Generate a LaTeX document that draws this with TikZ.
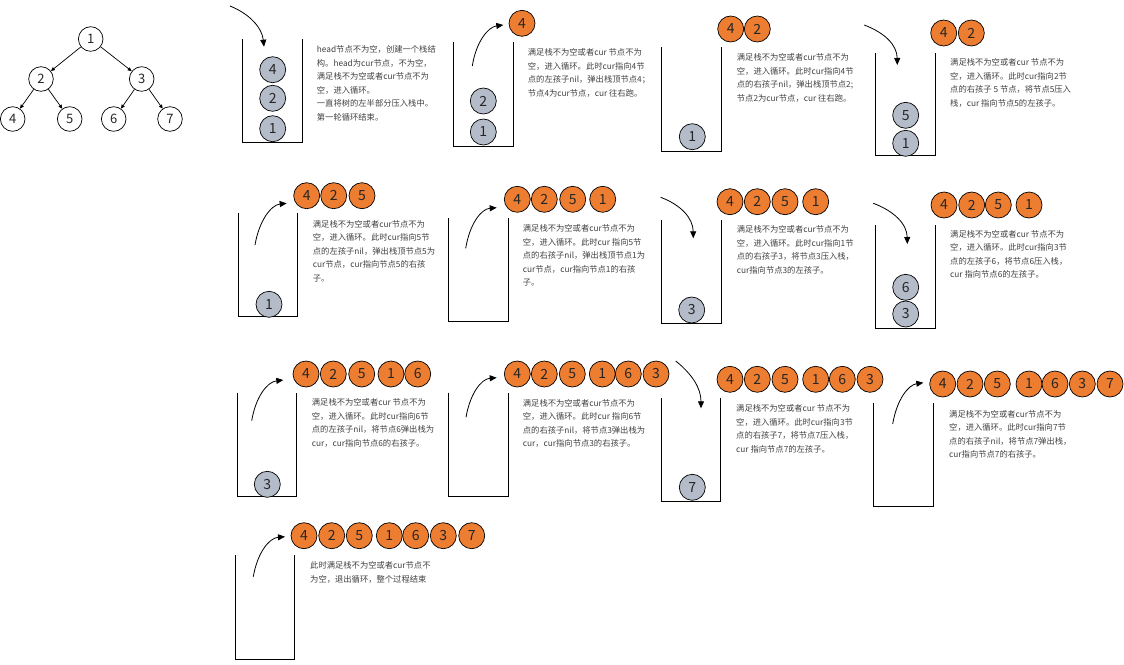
\documentclass[tikz,border=0pt]{standalone}
\usepackage{fontspec}
\newfontfamily\cjk{Noto Sans CJK SC}
\usetikzlibrary{arrows.meta}
\definecolor{orng}{HTML}{ED7D31}
\definecolor{gry}{HTML}{B5BCC9}
\definecolor{txtc}{HTML}{404040}
\definecolor{digc}{HTML}{262626}
\begin{document}
\begin{tikzpicture}[x=1pt,y=-1pt,
  tnode/.style={circle, draw, line width=0.7pt, minimum size=24.6pt, inner sep=0pt, text=digc, font=\cjk\fontsize{13}{13}\selectfont},
  snode/.style={circle, draw, fill=gry, line width=0.7pt, minimum size=26pt, inner sep=0pt, text=digc, font=\cjk\fontsize{14}{14}\selectfont},
  qnode/.style={circle, draw, fill=orng, line width=0.7pt, minimum size=26pt, inner sep=0pt, text=digc, font=\cjk\fontsize{14}{14}\selectfont},
  stackbox/.style={line width=1pt},
  tedge/.style={-{Triangle[length=4pt,width=3.5pt]}, line width=0.7pt},
  flow/.style={-{Triangle[length=7pt,width=6pt]}, line width=0.8pt},
  txt/.style={anchor=north west, inner sep=0pt, align=left, text=txtc, font=\cjk\fontsize{8.3}{13.5}\selectfont}
]
\useasboundingbox (0,0) rectangle (1124,664);
% ---------- tree ----------
\node[tnode] (t1) at (90.7,39) {1};
\node[tnode] (t2) at (41,79) {2};
\node[tnode] (t3) at (141.7,79) {3};
\node[tnode] (t4) at (12.7,119) {4};
\node[tnode] (t5) at (69.7,119) {5};
\node[tnode] (t6) at (113.7,119) {6};
\node[tnode] (t7) at (170,119) {7};
\draw[tedge] (t1) -- (t2);
\draw[tedge] (t1) -- (t3);
\draw[tedge] (t2) -- (t4);
\draw[tedge] (t2) -- (t5);
\draw[tedge] (t3) -- (t6);
\draw[tedge] (t3) -- (t7);
% ---------- panel 1 ----------
\draw[stackbox] (242.3,39.3) |- (302.3,142.3) -- (302.3,39.3);
\node[snode] (a4) at (272.7,69.7) {4};
\node[snode] (a2) at (272.7,98.3) {2};
\node[snode] (a1) at (272.7,128.7) {1};
\coordinate (a0) at (230,6);
\coordinate (ae) at (264,46.7);
\draw[flow] (a0) .. controls (250,14) and (262,28) .. (ae);
\node[txt] (atx) at (316.7,45.7) {head节点不为空，创建一个栈结\\构。head为cur节点，不为空，\\满足栈不为空或者cur节点不为\\空，进入循环。\\一直将树的左半部分压入栈中。\\第一轮循环结束。};
% ---------- panel 2 ----------
\draw[stackbox] (453.3,42.3) |- (513.3,146) -- (513.3,42.3);
\node[snode] (b2) at (483.3,101) {2};
\node[snode] (b1) at (483.3,132) {1};
\node[qnode] (bq4) at (522,23.3) {4};
\coordinate (b0) at (472.3,66);
\coordinate (be) at (503.3,25);
\draw[flow] (b0) .. controls (476,42) and (488,27) .. (be);
\node[txt] (btx) at (527.7,48.3) {满足栈不为空或者cur 节点不为\\空，进入循环。此时cur指向4节\\点的左孩子nil，弹出栈顶节点4；\\节点4为cur节点，cur 往右跑。};
% ---------- panel 3 ----------
\draw[stackbox] (661.7,47.3) |- (721,151) -- (721,47.3);
\node[snode] (c1) at (692.3,136.7) {1};
\node[qnode] (cq4) at (730.7,29) {4};
\node[qnode] (cq2) at (757.3,29) {2};
\node[txt] (ctx) at (736.7,53.3) {满足栈不为空或者cur节点不为\\空，进入循环。此时cur指向4节\\点的右孩子nil，弹出栈顶节点2;\\节点2为cur节点，cur 往右跑。};
% ---------- panel 4 ----------
\draw[stackbox] (875.7,53.3) |- (935.3,155.7) -- (935.3,53.3);
\node[snode] (d5) at (905.7,115.3) {5};
\node[snode] (d1) at (905.7,143.3) {1};
\node[qnode] (dq4) at (943.7,33) {4};
\node[qnode] (dq2) at (971.3,33) {2};
\coordinate (d0) at (864.3,25);
\coordinate (de) at (897.3,65);
\draw[flow] (d0) .. controls (885,33) and (897,45) .. (de);
\node[txt] (dtx) at (950,58.3) {满足栈不为空或者cur 节点不为\\空，进入循环。此时cur指向2节\\点的右孩子 5 节点，将节点5压入\\栈，cur 指向节点5的左孩子。};
% ---------- panel 5 ----------
\draw[stackbox] (238.3,213.3) |- (297.7,316.7) -- (297.7,213.3);
\node[snode] (e1) at (269,304.3) {1};
\node[qnode] (eq4) at (306.7,195.7) {4};
\node[qnode] (eq2) at (333.7,195.7) {2};
\node[qnode] (eq5) at (362,195.7) {5};
\coordinate (e0) at (255,245);
\coordinate (ee) at (286.7,203.3);
\draw[flow] (e0) .. controls (259,221) and (271,205) .. (ee);
\node[txt] (etx) at (312.7,220) {满足栈不为空或者cur节点不为\\空，进入循环。此时cur指向5节\\点的左孩子nil，弹出栈顶节点5为\\cur节点，cur指向节点5的右孩\\子。};
% ---------- panel 6 ----------
\draw[stackbox] (448.3,218.3) |- (508.3,321) -- (508.3,218.3);
\node[qnode] (fq4) at (517.3,199.3) {4};
\node[qnode] (fq2) at (544.3,199.3) {2};
\node[qnode] (fq5) at (572.7,199.3) {5};
\node[qnode] (fq1) at (602.7,199.3) {1};
\coordinate (f0) at (465.7,248.3);
\coordinate (fe) at (496.7,207.7);
\draw[flow] (f0) .. controls (469.7,224) and (481,209) .. (fe);
\node[txt] (ftx) at (522.7,224.3) {满足栈不为空或者cur节点不为\\空，进入循环。此时cur 指向5节\\点的右孩子nil，弹出栈顶节点1为\\cur节点，cur指向节点1的右孩\\子。};
% ---------- panel 7 ----------
\draw[stackbox] (661.7,220) |- (721.7,323.3) -- (721.7,220);
\node[snode] (g3) at (691.7,310) {3};
\node[qnode] (gq4) at (730,201.7) {4};
\node[qnode] (gq2) at (757.3,201.7) {2};
\node[qnode] (gq5) at (785,201.7) {5};
\node[qnode] (gq1) at (815.7,201.7) {1};
\coordinate (g0) at (660.7,197.3);
\coordinate (ge) at (693.3,238.3);
\draw[flow] (g0) .. controls (681,205) and (693,218) .. (ge);
\node[txt] (gtx) at (736.7,225.7) {满足栈不为空或者cur节点不为\\空，进入循环。此时cur指向1节\\点的右孩子3，将节点3压入栈，\\cur指向节点3的左孩子。};
% ---------- panel 8 ----------
\draw[stackbox] (875.7,225) |- (935.7,328.3) -- (935.7,225);
\node[snode] (h6) at (905.7,287.3) {6};
\node[snode] (h3) at (905.7,314) {3};
\node[qnode] (hq4) at (944,205) {4};
\node[qnode] (hq2) at (971.7,205) {2};
\node[qnode] (hq5) at (998.3,205) {5};
\node[qnode] (hq1) at (1029,205) {1};
\coordinate (h0) at (873.3,203.3);
\coordinate (he) at (907.3,244);
\draw[flow] (h0) .. controls (894,211) and (907,224) .. (he);
\node[txt] (htx) at (950,230) {满足栈不为空或者cur 节点不为\\空，进入循环。此时cur指向3节\\点的左孩子6，将节点6压入栈，\\cur 指向节点6的左孩子。};
% ---------- panel 9 ----------
\draw[stackbox] (237.3,392.7) |- (296.7,496.7) -- (296.7,392.7);
\node[snode] (i3) at (267.3,484.3) {3};
\node[qnode] (iq4) at (306,374) {4};
\node[qnode] (iq2) at (333.3,374) {2};
\node[qnode] (iq5) at (361.7,374) {5};
\node[qnode] (iq1) at (391,374) {1};
\node[qnode] (iq6) at (417.7,374) {6};
\coordinate (i0) at (251.7,420.7);
\coordinate (ie) at (283.3,380);
\draw[flow] (i0) .. controls (255.7,397) and (267,382) .. (ie);
\node[txt] (itx) at (311.7,398.3) {满足栈不为空或者cur 节点不为\\空，进入循环。此时cur指向6节\\点的左孩子nil，将节点6弹出栈为\\cur，cur指向节点6的右孩子。};
% ---------- panel 10 ----------
\draw[stackbox] (448.3,392.7) |- (508.3,496.7) -- (508.3,392.7);
\node[qnode] (jq4) at (517.3,374) {4};
\node[qnode] (jq2) at (544.3,374) {2};
\node[qnode] (jq5) at (572.3,374) {5};
\node[qnode] (jq1) at (602.3,374) {1};
\node[qnode] (jq6) at (628.3,374) {6};
\node[qnode] (jq3) at (656,374) {3};
\coordinate (j0) at (466,417.3);
\coordinate (je) at (496.7,377.7);
\draw[flow] (j0) .. controls (470,394) and (481,379) .. (je);
\node[txt] (jtx) at (522.7,399) {满足栈不为空或者cur节点不为\\空，进入循环。此时cur 指向6节\\点的右孩子nil，将节点3弹出栈为\\cur，cur指向节点3的右孩子。};
% ---------- panel 11 ----------
\draw[stackbox] (661.7,398.3) |- (720.7,501.7) -- (720.7,398.3);
\node[snode] (k7) at (692.3,487.3) {7};
\node[qnode] (kq4) at (730,379.3) {4};
\node[qnode] (kq2) at (757.3,379.3) {2};
\node[qnode] (kq5) at (785,379.3) {5};
\node[qnode] (kq1) at (815.7,379.3) {1};
\node[qnode] (kq6) at (842.3,379.3) {6};
\node[qnode] (kq3) at (870,379.3) {3};
\coordinate (k0) at (675.7,361);
\coordinate (ke) at (701,408.3);
\draw[flow] (k0) .. controls (692,374) and (701,388) .. (ke);
\node[txt] (ktx) at (736,404.3) {满足栈不为空或者cur 节点不为\\空，进入循环。此时cur指向3节\\点的右孩子7，将节点7压入栈，\\cur 指向节点7的左孩子。};
% ---------- panel 12 ----------
\draw[stackbox] (873.3,402.7) |- (933.3,506) -- (933.3,402.7);
\node[qnode] (lq4) at (942.7,384) {4};
\node[qnode] (lq2) at (970,384) {2};
\node[qnode] (lq5) at (997.3,384) {5};
\node[qnode] (lq1) at (1029,384) {1};
\node[qnode] (lq6) at (1055,384) {6};
\node[qnode] (lq3) at (1082.3,384) {3};
\node[qnode] (lq7) at (1110,384) {7};
\coordinate (l0) at (892.7,424);
\coordinate (le) at (923.3,382.7);
\draw[flow] (l0) .. controls (896.7,400) and (908,385) .. (le);
\node[txt] (ltx) at (949,410) {满足栈不为空或者cur节点不为\\空，进入循环。此时cur指向7节\\点的右孩子nil，将节点7弹出栈，\\cur指向节点7的右孩子。};
% ---------- panel 13 ----------
\draw[stackbox] (235.7,555) |- (294,659) -- (294,555);
\node[qnode] (mq4) at (304,535.7) {4};
\node[qnode] (mq2) at (331.7,535.7) {2};
\node[qnode] (mq5) at (359.3,535.7) {5};
\node[qnode] (mq1) at (389.3,535.7) {1};
\node[qnode] (mq6) at (415.7,535.7) {6};
\node[qnode] (mq3) at (443.3,535.7) {3};
\node[qnode] (mq7) at (471.7,535.7) {7};
\coordinate (m0) at (253.3,576.7);
\coordinate (me) at (285,536.7);
\draw[flow] (m0) .. controls (257.3,553) and (269,538) .. (me);
\node[txt] (mtx) at (310,561.7) {此时满足栈不为空或者cur节点不\\为空，退出循环，整个过程结束};
\end{tikzpicture}
\end{document}
